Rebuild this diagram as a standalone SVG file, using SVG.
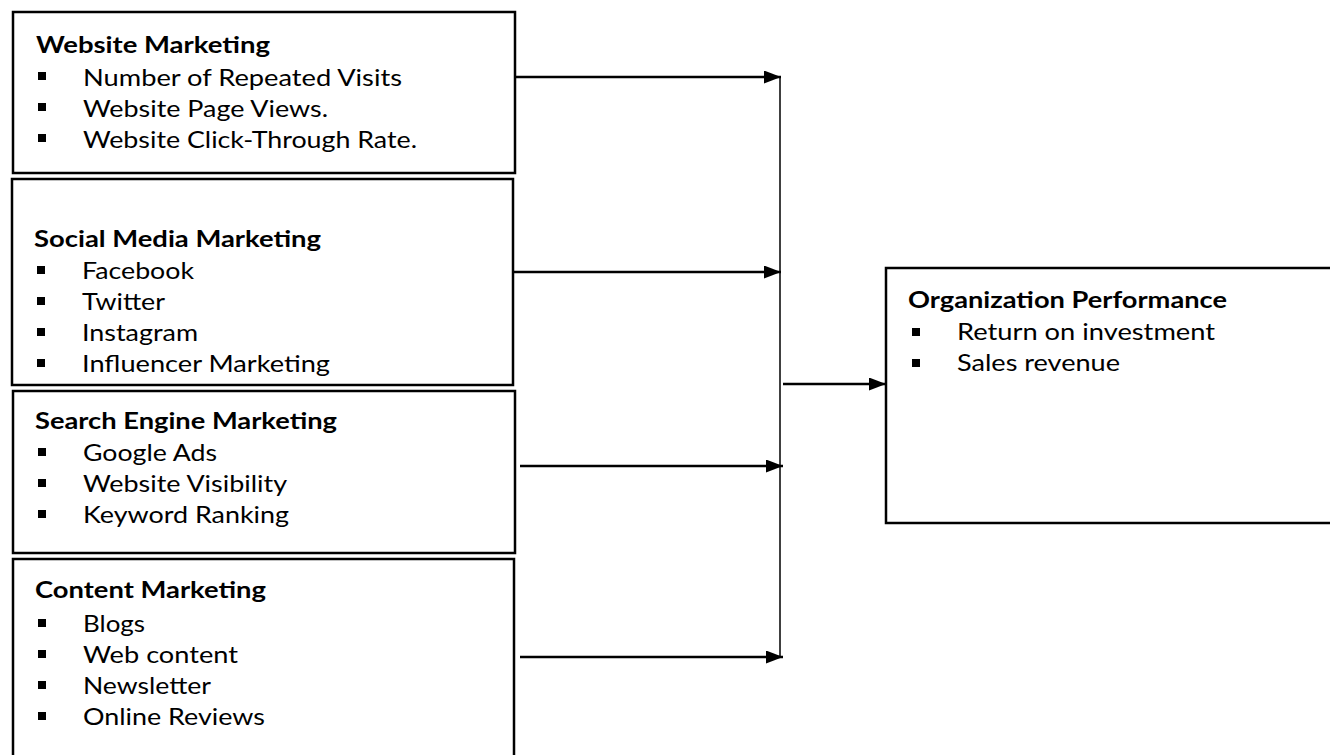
<svg xmlns="http://www.w3.org/2000/svg" width="1330" height="755" viewBox="0 0 1330 755">
<defs>
<style>
.box{fill:#fff;stroke:#000;stroke-width:2.5}
.h{font-family:Lato,"Liberation Sans",sans-serif;font-weight:bold;font-size:23px;fill:#000}
.t{font-family:Lato,"Liberation Sans",sans-serif;font-size:23px;fill:#000}
.b{fill:#000}
.c{stroke:#000;stroke-width:2.5;fill:none}
.v{stroke:#000;stroke-width:1.5;fill:none}
</style>
<marker id="arr" markerUnits="userSpaceOnUse" markerWidth="17" markerHeight="13" refX="17" refY="6.5" orient="auto">
<path d="M0,0 L17,6.5 L0,13 Z" fill="#000"/>
</marker>
</defs>
<rect width="1330" height="755" fill="#fff"/>

<g id="website">
<rect class="box" x="13" y="12" width="502" height="161"/>
<text class="h" x="36" y="53" textLength="234" lengthAdjust="spacingAndGlyphs">Website Marketing</text>
<rect class="b" x="38" y="72" width="8" height="8"/>
<text class="t" x="83" y="86" textLength="319" lengthAdjust="spacingAndGlyphs">Number of Repeated Visits</text>
<rect class="b" x="38" y="103" width="8" height="8"/>
<text class="t" x="83" y="117" textLength="245" lengthAdjust="spacingAndGlyphs">Website Page Views.</text>
<rect class="b" x="38" y="134" width="8" height="8"/>
<text class="t" x="83" y="148" textLength="334" lengthAdjust="spacingAndGlyphs">Website Click-Through Rate.</text>
</g>

<g id="social">
<rect class="box" x="12" y="179" width="501" height="206"/>
<text class="h" x="34" y="247" textLength="287" lengthAdjust="spacingAndGlyphs">Social Media Marketing</text>
<rect class="b" x="37" y="266" width="8" height="8"/>
<text class="t" x="82" y="279" textLength="112" lengthAdjust="spacingAndGlyphs">Facebook</text>
<rect class="b" x="37" y="297" width="8" height="8"/>
<text class="t" x="82" y="310" textLength="83" lengthAdjust="spacingAndGlyphs">Twitter</text>
<rect class="b" x="37" y="328" width="8" height="8"/>
<text class="t" x="82" y="341" textLength="116" lengthAdjust="spacingAndGlyphs">Instagram</text>
<rect class="b" x="37" y="359" width="8" height="8"/>
<text class="t" x="82" y="372" textLength="248" lengthAdjust="spacingAndGlyphs">Influencer Marketing</text>
</g>

<g id="search">
<rect class="box" x="13" y="391" width="502" height="162"/>
<text class="h" x="35" y="429" textLength="302" lengthAdjust="spacingAndGlyphs">Search Engine Marketing</text>
<rect class="b" x="38" y="448" width="8" height="8"/>
<text class="t" x="83" y="461" textLength="134" lengthAdjust="spacingAndGlyphs">Google Ads</text>
<rect class="b" x="38" y="479" width="8" height="8"/>
<text class="t" x="83" y="492" textLength="204" lengthAdjust="spacingAndGlyphs">Website Visibility</text>
<rect class="b" x="38" y="510" width="8" height="8"/>
<text class="t" x="83" y="523" textLength="206" lengthAdjust="spacingAndGlyphs">Keyword Ranking</text>
</g>

<g id="content">
<rect class="box" x="13" y="559" width="501" height="220"/>
<text class="h" x="35" y="598" textLength="231" lengthAdjust="spacingAndGlyphs">Content Marketing</text>
<rect class="b" x="38" y="619" width="8" height="8"/>
<text class="t" x="83" y="632" textLength="62" lengthAdjust="spacingAndGlyphs">Blogs</text>
<rect class="b" x="38" y="650" width="8" height="8"/>
<text class="t" x="83" y="663" textLength="155" lengthAdjust="spacingAndGlyphs">Web content</text>
<rect class="b" x="38" y="681" width="8" height="8"/>
<text class="t" x="83" y="694" textLength="128" lengthAdjust="spacingAndGlyphs">Newsletter</text>
<rect class="b" x="38" y="712" width="8" height="8"/>
<text class="t" x="83" y="725" textLength="182" lengthAdjust="spacingAndGlyphs">Online Reviews</text>
</g>

<g id="performance">
<rect class="box" x="886" y="268" width="460" height="255"/>
<text class="h" x="908" y="308" textLength="319" lengthAdjust="spacingAndGlyphs">Organization Performance</text>
<rect class="b" x="912" y="328" width="8" height="8"/>
<text class="t" x="957" y="340" textLength="258" lengthAdjust="spacingAndGlyphs">Return on investment</text>
<rect class="b" x="912" y="359" width="8" height="8"/>
<text class="t" x="957" y="371" textLength="163" lengthAdjust="spacingAndGlyphs">Sales revenue</text>
</g>

<g id="connectors">
<line class="c" x1="516" y1="77" x2="781" y2="77" marker-end="url(#arr)"/>
<line class="c" x1="514" y1="272" x2="781" y2="272" marker-end="url(#arr)"/>
<line class="c" x1="520" y1="466" x2="783" y2="466" marker-end="url(#arr)"/>
<line class="c" x1="520" y1="657" x2="783" y2="657" marker-end="url(#arr)"/>
<line class="v" x1="780" y1="77" x2="780" y2="657"/>
<line class="c" x1="783" y1="384" x2="886" y2="384" marker-end="url(#arr)"/>
</g>
</svg>
